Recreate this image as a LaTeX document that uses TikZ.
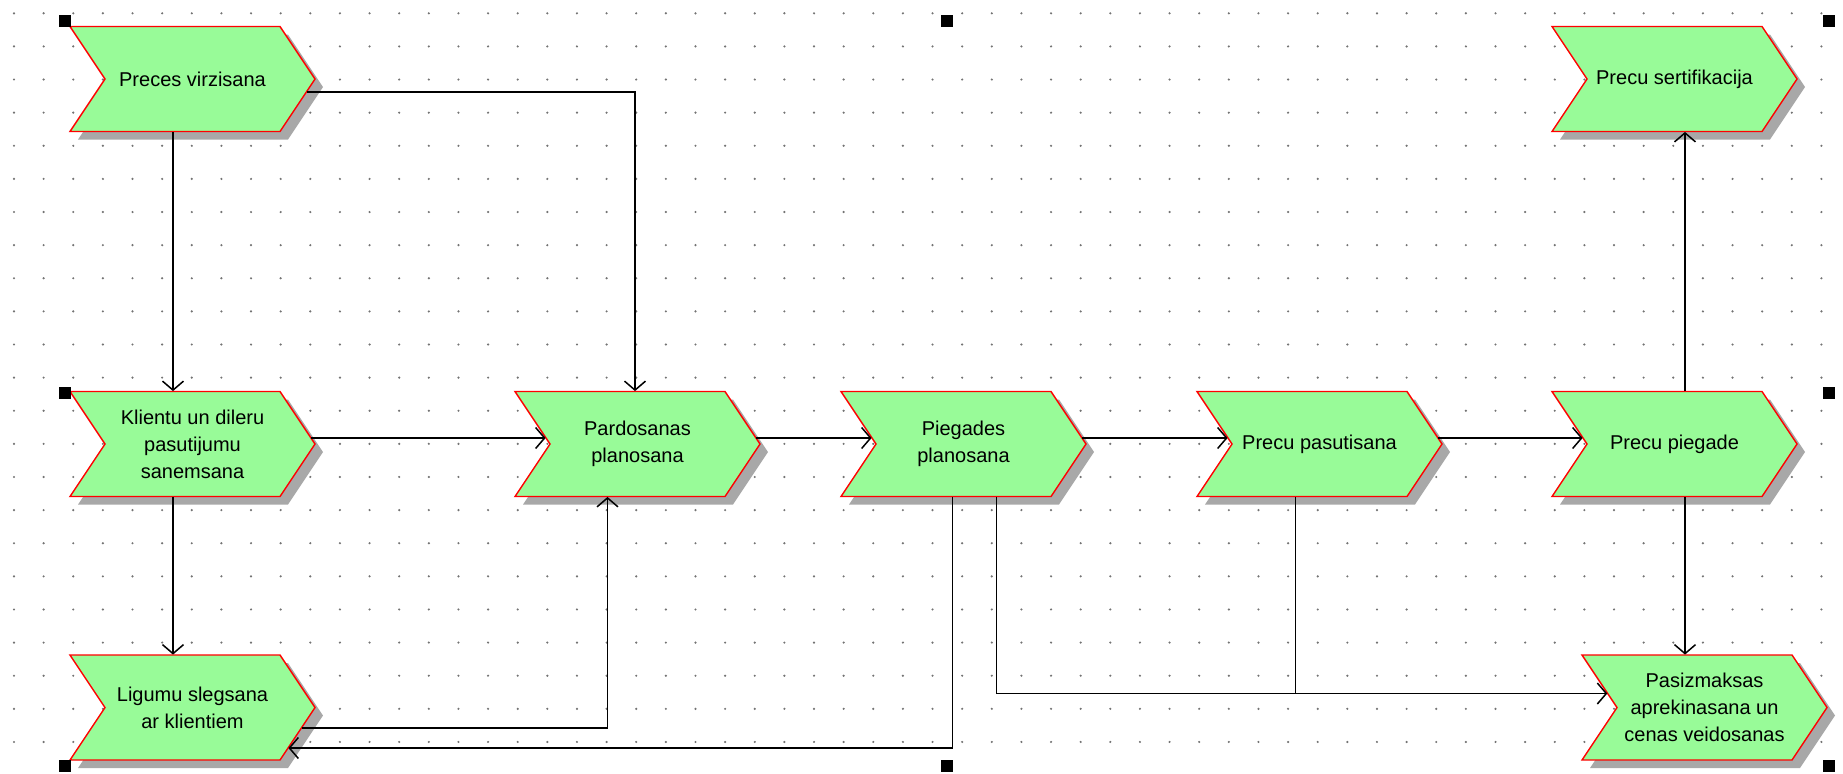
\documentclass[tikz,border=0pt]{standalone}
\usepackage{fontspec}
\setmainfont{Liberation Sans}
\usetikzlibrary{arrows.meta,calc}
\definecolor{procgreen}{RGB}{152,251,152}
\definecolor{procred}{RGB}{255,0,0}
\definecolor{procshade}{RGB}{168,168,168}
\definecolor{griddot}{RGB}{115,115,115}

% Process step: #1 node name, #2 left x, #3 top y, #4 label
\newcommand\evproc[4]{%
  \fill[procshadow] (#2+8,#3+8) -- ++(210,0) -- ++(35,52.5) -- ++(-35,52.5)
        -- ++(-210,0) -- ++(35,-52.5) -- cycle;
  \draw[procbody] (#2,#3) -- ++(210,0) -- ++(35,52.5) -- ++(-35,52.5)
        -- ++(-210,0) -- ++(35,-52.5) -- cycle;
  \node[proclabel] (#1) at (#2+122.5,#3+52.5) {#4};
}

\begin{document}
\begin{tikzpicture}[x=0.5pt,y=-0.5pt,
  procshadow/.style={fill=procshade},
  procbody/.style={fill=procgreen,draw=procred,line width=0.7pt,line join=miter},
  proclabel/.style={inner sep=0pt,minimum width=122.5pt,minimum height=52.5pt,
                    align=center,font=\fontsize{10}{13.5}\selectfont},
  flow/.style={draw=black,line width=0.75pt},
  arr/.style={flow,-{Straight Barb[length=4.5pt,width=10.5pt]}},
  handle/.style={fill=black}
]
\useasboundingbox (0,0) rectangle (1843,773);

% dotted background grid
\foreach \i in {0,...,61}
  \foreach \j in {0,...,22}
    \fill[griddot] (14+29.63*\i,13.3+33.12*\j) circle[radius=0.6pt];

% process steps
\evproc{pv}{70}{26.5}{Preces virzisana}
\evproc{kl}{70}{391.5}{Klientu un dileru\\pasutijumu\\sanemsana}
\evproc{lg}{70}{655}{Ligumu slegsana\\ar klientiem}
\evproc{pd}{515}{391.5}{Pardosanas\\planosana}
\evproc{pg}{841}{391.5}{Piegades\\planosana}
\evproc{pp}{1197}{391.5}{Precu pasutisana}
\evproc{pc}{1552}{391.5}{Precu piegade}
\evproc{ps}{1552}{26.5}{Precu sertifikacija}
\evproc{pz}{1582}{655}{Pasizmaksas\\aprekinasana un\\cenas veidosanas}

% connectors
\draw[arr] ($(pv.south)+(-19.5,0)$) -- ($(kl.north)+(-19.5,0)$);
\draw[arr] ($(kl.south)+(-19.5,0)$) -- ($(lg.north)+(-19.5,0)$);
\draw[arr] ($(pv.east)+(-8.7,13)$) -| ($(pd.north)+(-2.5,0)$);
\draw[arr] ($(kl.east)+(-4,-6)$) -- ($(pd.west)+(31,-6)$);
\draw[arr] ($(pd.east)+(-4,-6)$) -- ($(pg.west)+(31,-6)$);
\draw[arr] ($(pg.east)+(-4,-6)$) -- ($(pp.west)+(31,-6)$);
\draw[arr] ($(pp.east)+(-4,-6)$) -- ($(pc.west)+(31,-6)$);
\draw[arr] ($(pc.north)+(10.5,0)$) -- ($(ps.south)+(10.5,0)$);
\draw[arr] ($(pc.south)+(10.5,0)$) -- ($(pz.north)+(-19.5,0)$);
\draw[arr] ($(lg.east)+(-13.7,20.5)$) -| ($(pd.south)+(-30,0)$);
\draw[arr] ($(pg.south)+(-11,0)$) |- ($(lg.east)+(-27,40.5)$);
\coordinate (pzin) at ($(pz.west)+(25.7,-14)$);
\draw[arr] ($(pg.south)+(33,0)$) |- (pzin);
\coordinate (ppout) at ($(pp.south)+(-24,0)$);
\draw[flow] (ppout) -- (ppout |- pzin);

% selection handles
\foreach \hx/\hy in {65/21, 947/21, 1829/21, 65/393, 1829/393, 65/766, 947/766, 1829/766}
  \fill[handle] (\hx-6,\hy-6) rectangle (\hx+6,\hy+6);
\end{tikzpicture}
\end{document}
